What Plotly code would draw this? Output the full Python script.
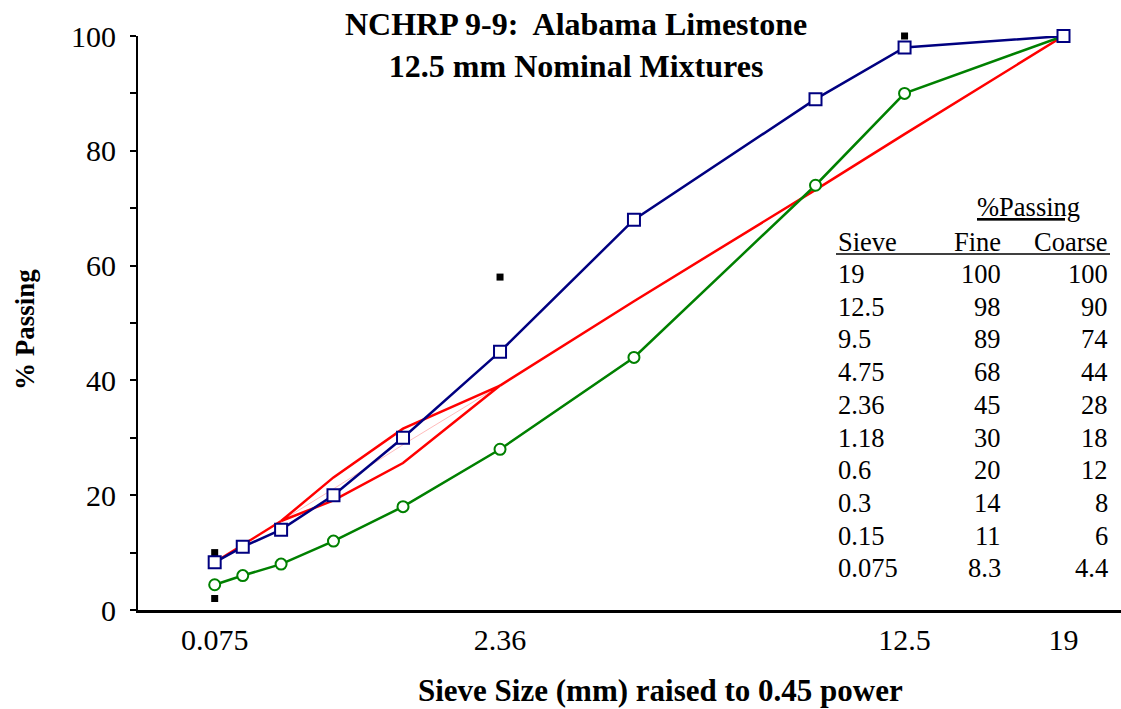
import plotly.graph_objects as go

# ---- data ----
sieves = [19, 12.5, 9.5, 4.75, 2.36, 1.18, 0.6, 0.3, 0.15, 0.075]
sieve_labels = ["19", "12.5", "9.5", "4.75", "2.36", "1.18", "0.6", "0.3", "0.15", "0.075"]
fine = [100, 98, 89, 68, 45, 30, 20, 14, 11, 8.3]
coarse = [100, 90, 74, 44, 28, 18, 12, 8, 6, 4.4]
fine_labels = ["100", "98", "89", "68", "45", "30", "20", "14", "11", "8.3"]
coarse_labels = ["100", "90", "74", "44", "28", "18", "12", "8", "6", "4.4"]

# maximum density line
mdl_sieves_a = [0.075, 0.15, 0.3]
mdl_a = [8.3, 11.3, 15.5]
mdl_sieves_b = [0.3, 0.6, 1.18, 2.36]
mdl_b = [15.5, 21.1, 28.8, 39.1]
mdl_sieves_c = [2.36, 4.75, 9.5, 12.5, 19]
mdl_c = [39.1, 53.8, 73.2, 82.9, 100]

# restricted zone boundary
rz_sieves = [0.3, 0.6, 1.18, 2.36, 1.18, 0.6, 0.3]
rz_vals = [15.5, 23.1, 31.6, 39.1, 25.6, 19.1, 15.5]

# control points
cp_sieves = [19, 12.5, 12.5, 2.36, 2.36, 0.075, 0.075]
cp_vals = [100, 100, 90, 58, 28, 10, 2]

tick_sizes = [0.075, 2.36, 12.5, 19]
tick_text = ["0.075", "2.36", "12.5", "19"]

P = 0.45
def tx(v):
    return [s ** P for s in v]

FONT = "Liberation Serif, Times New Roman, serif"

fig = go.Figure()

fig.add_trace(go.Scatter(x=tx(cp_sieves), y=cp_vals, mode="markers",
                         marker=dict(symbol="square", size=7, color="black"),
                         cliponaxis=False, showlegend=False))
fig.add_trace(go.Scatter(x=tx(mdl_sieves_b), y=mdl_b, mode="lines",
                         line=dict(color="rgba(255,120,120,0.5)", width=1),
                         showlegend=False))
fig.add_trace(go.Scatter(x=tx(mdl_sieves_a), y=mdl_a, mode="lines",
                         line=dict(color="#ff0000", width=2.5), showlegend=False))
fig.add_trace(go.Scatter(x=tx(mdl_sieves_c), y=mdl_c, mode="lines",
                         line=dict(color="#ff0000", width=2.5), cliponaxis=False,
                         showlegend=False))
fig.add_trace(go.Scatter(x=tx(rz_sieves), y=rz_vals, mode="lines",
                         line=dict(color="#ff0000", width=2.5), showlegend=False))
fig.add_trace(go.Scatter(x=tx(sieves), y=coarse, mode="lines+markers",
                         line=dict(color="#008000", width=2.5),
                         marker=dict(symbol="circle", size=11, color="white",
                                     line=dict(color="#008000", width=2)),
                         cliponaxis=False, showlegend=False))
fig.add_trace(go.Scatter(x=tx(sieves), y=fine, mode="lines+markers",
                         line=dict(color="#000080", width=2.5),
                         marker=dict(symbol="square", size=12, color="white",
                                     line=dict(color="#000080", width=2)),
                         cliponaxis=False, showlegend=False))

W = 1121 - 138
H = 610 - 36
def px(xp):
    return (xp - 138) / W
def py(yp):
    return (610 - yp) / H

ann = []
ann.append(dict(text="<b>NCHRP 9-9:  Alabama Limestone<br>12.5 mm Nominal Mixtures</b>",
                x=px(576), y=py(4), xref="paper", yref="paper", showarrow=False,
                xanchor="center", yanchor="top", font=dict(size=32)))

TF = 26.5
ann.append(dict(text="<u>%Passing</u>", x=px(1028), y=py(207), xref="paper", yref="paper",
                showarrow=False, xanchor="center", yanchor="middle", font=dict(size=TF)))
ann.append(dict(text="Sieve", x=px(836), y=py(242), xref="paper", yref="paper",
                showarrow=False, xanchor="left", yanchor="middle", font=dict(size=TF)))
ann.append(dict(text="Fine", x=px(1003), y=py(242), xref="paper", yref="paper",
                showarrow=False, xanchor="right", yanchor="middle", font=dict(size=TF)))
ann.append(dict(text="Coarse", x=px(1110), y=py(242), xref="paper", yref="paper",
                showarrow=False, xanchor="right", yanchor="middle", font=dict(size=TF)))
for i in range(len(sieves)):
    yy = 274 + i * 32.7
    ann.append(dict(text=sieve_labels[i], x=px(836), y=py(yy), xref="paper", yref="paper",
                    showarrow=False, xanchor="left", yanchor="middle", font=dict(size=TF)))
    ann.append(dict(text=fine_labels[i], x=px(1003), y=py(yy), xref="paper", yref="paper",
                    showarrow=False, xanchor="right", yanchor="middle", font=dict(size=TF)))
    ann.append(dict(text=coarse_labels[i], x=px(1110), y=py(yy), xref="paper", yref="paper",
                    showarrow=False, xanchor="right", yanchor="middle", font=dict(size=TF)))

ann.append(dict(text="<b>Sieve Size (mm) raised to 0.45 power</b>", x=px(660), y=py(690),
                xref="paper", yref="paper", showarrow=False, xanchor="center",
                yanchor="middle", font=dict(size=31)))
ann.append(dict(text="<b>% Passing</b>", x=px(25), y=py(330), xref="paper", yref="paper",
                showarrow=False, xanchor="center", yanchor="middle", textangle=-90,
                font=dict(size=27)))

shapes = [dict(type="line", xref="paper", yref="paper", x0=px(836), x1=px(1110),
               y0=py(254), y1=py(254), line=dict(color="black", width=1.5))]

fig.update_layout(
    width=1121, height=709,
    margin=dict(l=138, r=0, t=36, b=99),
    paper_bgcolor="white", plot_bgcolor="white",
    font=dict(family=FONT, color="black", size=24),
    annotations=ann, shapes=shapes, showlegend=False,
    xaxis=dict(range=[0, (1121 - 138) / 246.0], tickvals=tx(tick_sizes), ticktext=tick_text,
               showgrid=False, zeroline=False, showline=True, linecolor="black",
               linewidth=3, ticks="", tickfont=dict(size=30), ticklabelstandoff=1),
    yaxis=dict(range=[0, 100], tickvals=list(range(0, 101, 10)),
               ticktext=[str(v) if v % 20 == 0 else "" for v in range(0, 101, 10)],
               showgrid=False, zeroline=False, showline=True, linecolor="black",
               linewidth=2, ticks="outside", ticklen=6, tickwidth=2, tickcolor="black",
               tickfont=dict(size=30), ticklabelstandoff=8),
)

fig.write_html("out.html")
